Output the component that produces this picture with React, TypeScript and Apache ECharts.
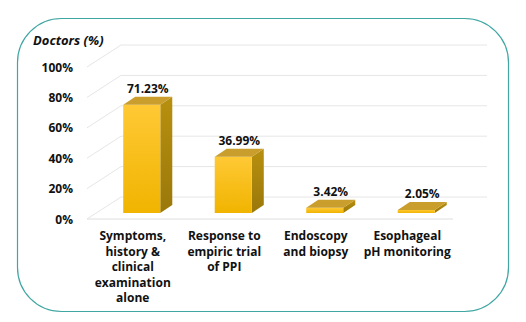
import React, { useEffect, useRef } from "react";
import * as echarts from "echarts";

const categories = [
  "Symptoms,\nhistory &\nclinical\nexamination\nalone",
  "Response to\nempiric trial\nof PPI",
  "Endoscopy\nand biopsy",
  "Esophageal\npH monitoring",
];
const values = [71.23, 36.99, 3.42, 2.05];
const yTicks = [0, 20, 40, 60, 80, 100];
const yTitle = "Doctors (%)";

const FONT = "'Open Sans', Lato, sans-serif";
const WALL_DX = 34;
const WALL_DY = 22;
const BAR_DX = 9;
const BAR_DY = 6;
const DEPTH_DX = 12;
const DEPTH_DY = 8;

export default function App() {
  const ref = useRef<HTMLDivElement>(null);
  useEffect(() => {
    if (!ref.current) return;
    const chart = echarts.init(ref.current, null, { renderer: "svg" });
    const gridColor = "#e6e6e6";
    chart.setOption({
      animation: false,
      backgroundColor: "#ffffff",
      graphic: [
        {
          type: "rect",
          shape: { x: 17.5, y: 18.5, width: 491, height: 293, r: 44 },
          style: { fill: "none", stroke: "#3fa6a2", lineWidth: 1.2 },
          z: 0,
        },
        {
          type: "text",
          left: 33,
          top: 33,
          style: {
            text: yTitle,
            font: `italic bold 13px ${FONT}`,
            fill: "#111",
          },
        },
      ],
      grid: { left: 87, right: 73, top: 67, bottom: 103 },
      xAxis: {
        type: "category",
        data: categories,
        axisLine: { show: false },
        axisTick: { show: false },
        axisLabel: {
          interval: 0,
          margin: 9,
          fontFamily: FONT,
          fontWeight: "bold",
          fontSize: 12,
          lineHeight: 15.5,
          color: "#111",
          align: "center",
        },
      },
      yAxis: {
        type: "value",
        min: 0,
        max: 100,
        interval: 20,
        axisLine: { show: false },
        axisTick: { show: false },
        splitLine: { show: false },
        axisLabel: {
          formatter: "{value}%",
          margin: 14,
          fontFamily: FONT,
          fontWeight: "bold",
          fontSize: 12,
          color: "#111",
        },
      },
      series: [
        {
          type: "custom",
          clip: false,
          z: 1,
          data: yTicks.map((v) => [0, v]),
          renderItem: (params: any, api: any) => {
            const cs = params.coordSys;
            const v = api.value(1);
            const y = api.coord([0, v])[1];
            const x0 = cs.x;
            const x1 = cs.x + cs.width;
            const children: any[] = [
              {
                type: "line",
                shape: { x1: x0, y1: y, x2: x0 + WALL_DX, y2: y - WALL_DY },
                style: { stroke: gridColor, lineWidth: 1 },
              },
              {
                type: "line",
                shape: { x1: x0 + WALL_DX, y1: y - WALL_DY, x2: x1 + WALL_DX, y2: y - WALL_DY },
                style: { stroke: gridColor, lineWidth: 1 },
              },
            ];
            if (v === 0) {
              children.push({
                type: "line",
                shape: { x1: x0, y1: y, x2: x1, y2: y },
                style: { stroke: "#dedede", lineWidth: 1 },
              });
            }
            return { type: "group", children };
          },
        },
        {
          type: "custom",
          clip: false,
          z: 2,
          data: values.map((v, i) => [i, v]),
          renderItem: (params: any, api: any) => {
            const i = api.value(0);
            const v = api.value(1);
            const base = api.coord([i, 0]);
            const top = api.coord([i, v]);
            const band = api.size([1, 0])[0];
            const w = band * 0.405;
            const xl = base[0] - w / 2 + BAR_DX;
            const xr = xl + w;
            const yb = base[1] - BAR_DY;
            const yt = top[1] - BAR_DY;
            return {
              type: "group",
              children: [
                {
                  type: "polygon",
                  shape: {
                    points: [
                      [xr, yt],
                      [xr + DEPTH_DX, yt - DEPTH_DY],
                      [xr + DEPTH_DX, yb - DEPTH_DY],
                      [xr, yb],
                    ],
                  },
                  style: {
                    fill: new echarts.graphic.LinearGradient(0, 0, 0, 1, [
                      { offset: 0, color: "#B8900F" },
                      { offset: 1, color: "#9A780A" },
                    ]),
                  },
                },
                {
                  type: "rect",
                  shape: { x: xl, y: yt, width: w, height: yb - yt },
                  style: {
                    fill: new echarts.graphic.LinearGradient(0, 0, 0, 1, [
                      { offset: 0, color: "#FFC935" },
                      { offset: 1, color: "#F0B400" },
                    ]),
                  },
                },
                {
                  type: "polygon",
                  shape: {
                    points: [
                      [xl, yt],
                      [xl + DEPTH_DX, yt - DEPTH_DY],
                      [xr + DEPTH_DX, yt - DEPTH_DY],
                      [xr, yt],
                    ],
                  },
                  style: { fill: "#C99E2C" },
                },
                {
                  type: "text",
                  x: xl + (w + DEPTH_DX) / 2,
                  y: yt - DEPTH_DY - 2,
                  style: {
                    text: v.toFixed(2) + "%",
                    align: "center",
                    verticalAlign: "bottom",
                    font: `bold 12px ${FONT}`,
                    fill: "#111",
                  },
                },
              ],
            };
          },
        },
      ],
    });
    return () => chart.dispose();
  }, []);
  return (
    <div
      ref={ref}
      style={{ position: "absolute", left: 0, top: 0, width: 526, height: 322 }}
    />
  );
}
